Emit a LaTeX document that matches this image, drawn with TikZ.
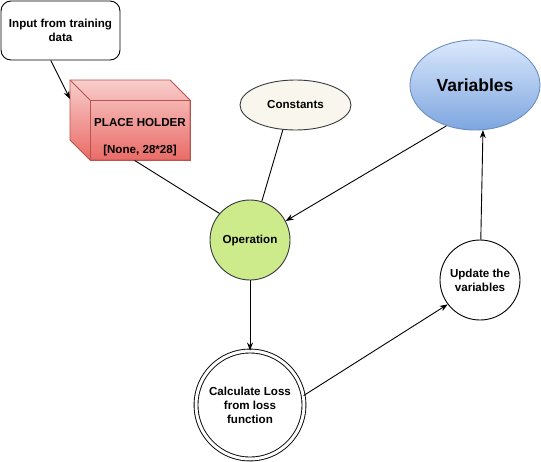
\documentclass[tikz,border=0pt]{standalone}
\usepackage{fontspec}
\setmainfont{Liberation Sans}
\usepackage{xcolor}
\usepackage{tikz}
\usetikzlibrary{arrows.meta,positioning,shapes.geometric}

\definecolor{phtop}{HTML}{F8CECC}
\definecolor{phbot}{HTML}{EA6B66}
\definecolor{phline}{HTML}{B85450}
\definecolor{vartop}{HTML}{DAE8FC}
\definecolor{varbot}{HTML}{7EA6E0}
\definecolor{varline}{HTML}{6C8EBF}
\definecolor{constfill}{HTML}{F9F7ED}
\definecolor{opfill}{HTML}{CDEB8B}
\definecolor{darkline}{HTML}{36393D}

\begin{document}
\begin{tikzpicture}[x=1pt, y=-1pt, >={Stealth[length=8pt,width=6pt]}, line width=0.9pt,
  font=\bfseries\fontsize{11.6}{14}\selectfont,
  blob/.style={draw=darkline, align=center}]
  \useasboundingbox (0,0) rectangle (541,461);

  \node[draw,rounded corners=10pt,align=center,minimum width=119pt,minimum height=59pt] (in) at (60.5,30.5) {Input from training\\data};

  % place holder cube
  \fill[top color=phtop,bottom color=phbot,draw=phline] (70,80) -- (170,80) -- (190,100) -- (190,160) -- (90,160) -- (70,140) -- cycle;
  \node[draw=phline,minimum width=100pt,minimum height=60pt] (ph) at (140,130) {};
  \draw[phline] (70,80) -- (90,100);
  \node (phname) at (140,123) {PLACE HOLDER};
  \node (phdim) at (140,150) {[None, 28*28]};
  \coordinate (phback) at (70,99);

  \node[blob,ellipse,fill=constfill,minimum width=111pt,minimum height=50pt] (const) at (295.5,105) {Constants};
  \node[ellipse,draw=varline,top color=vartop,bottom color=varbot,minimum width=130pt,minimum height=90pt,
        font=\bfseries\fontsize{17.5}{20}\selectfont] (vars) at (475,85) {Variables};
  \node[blob,circle,fill=opfill,minimum size=80pt] (op) at (250,240) {Operation};
  \node[circle,draw,double,double distance=3pt,minimum size=108pt,align=center] (loss) at (250,405) {Calculate Loss\\from loss\\function};
  \node[circle,draw,minimum size=80pt,align=center] (upd) at (480,280) {Update the\\variables};

  \draw[->] (in.252) -- (phback);
  \draw (ph.260) -- (op.139);
  \draw (const.243) -- (op.73);
  \draw[->] (vars.235) -- (op.28);
  \draw[->] (op) -- (loss);
  \draw[->] (loss.10) -- (upd.217);
  \draw[->] (upd) -- (vars.280);
\end{tikzpicture}
\end{document}
